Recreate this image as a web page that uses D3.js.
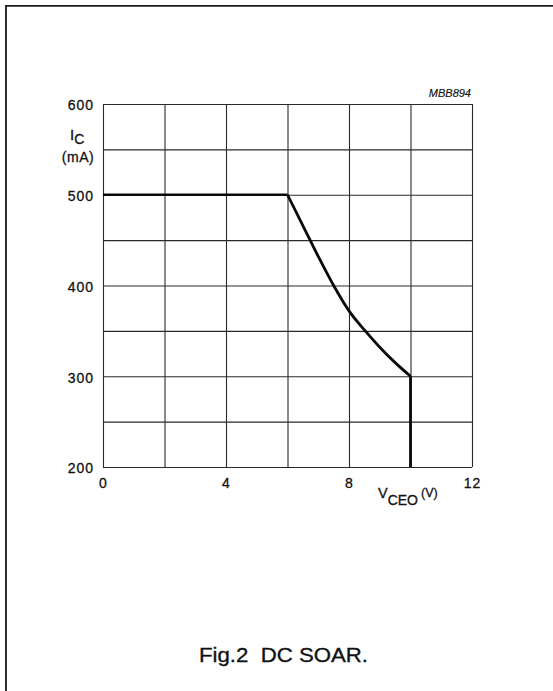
<!DOCTYPE html>
<html>
<head>
<meta charset="utf-8">
<script src="https://cdn.jsdelivr.net/npm/d3@7"></script>
<style>
  html, body { margin: 0; padding: 0; background: #fff; }
  svg { display: block; }
  text { font-family: "Liberation Sans", Arial, Helvetica, sans-serif; fill: #111; stroke: #111; stroke-width: 0.3px; }
</style>
</head>
<body>
<script>
// DC safe operating area: collector current limit vs collector-emitter voltage
const vceGrid = [0, 2, 4, 6, 8, 10, 12];
const icGrid = [200, 250, 300, 350, 400, 450, 500, 550, 600];
const vceTicks = [0, 4, 8, 12];
const icTicks = [200, 300, 400, 500, 600];

// boundary segments: current limit, power-limited curve, voltage limit
const flatV = [0, 6];
const flatI = [500, 500];
const curveV = [6, 6.5, 7, 7.5, 8, 8.5, 9, 9.5, 10];
const curveI = [500, 466, 432, 400, 372, 351, 332, 315, 300];
const vertV = [10, 10];
const vertI = [300, 200];

const W = 553, H = 691;
const svg = d3.select("body").append("svg").attr("width", W).attr("height", H);

// page frame (top and left rules)
svg.append("path")
  .attr("d", `M6,${H} V5.8 H${W}`)
  .attr("fill", "none").attr("stroke", "#1a1a1a").attr("stroke-width", 1.8);

const x = d3.scaleLinear().domain([0, 12]).range([103, 472]);
const y = d3.scaleLinear().domain([200, 600]).range([467, 104]);

// grid
const grid = svg.append("g").attr("stroke", "#2a2a2a").attr("stroke-width", 1.1);
grid.selectAll("line.v").data(vceGrid).join("line")
  .attr("class", "v")
  .attr("x1", d => x(d) + 0.5).attr("x2", d => x(d) + 0.5)
  .attr("y1", y(600)).attr("y2", y(200));
grid.selectAll("line.h").data(icGrid).join("line")
  .attr("class", "h")
  .attr("x1", x(0)).attr("x2", x(12))
  .attr("y1", d => y(d) + 0.5).attr("y2", d => y(d) + 0.5);

// axes (labels only)
const xAxis = svg.append("g")
  .attr("transform", `translate(0,${y(200)})`)
  .call(d3.axisBottom(x).tickValues(vceTicks).tickSize(0).tickPadding(11).tickFormat(d3.format("d")));
const yAxis = svg.append("g")
  .attr("transform", `translate(${x(0)},0)`)
  .call(d3.axisLeft(y).tickValues(icTicks).tickSize(0).tickPadding(9).tickFormat(d3.format("d")));
[xAxis, yAxis].forEach(a => {
  a.select(".domain").remove();
  a.selectAll("text")
    .attr("font-family", "'Liberation Sans', Arial, sans-serif")
    .attr("font-size", 14).attr("letter-spacing", 1).attr("fill", "#111");
});
yAxis.selectAll("text").attr("dy", "0.42em");

// SOA boundary
const pts = (vs, is) => vs.map((v, i) => [x(v), y(is[i])]);
const boundary = svg.append("g")
  .attr("fill", "none").attr("stroke", "#0a0a0a")
  .attr("stroke-linejoin", "round").attr("stroke-linecap", "butt");
boundary.append("path")
  .attr("d", d3.line().curve(d3.curveLinear)(pts(flatV, flatI)))
  .attr("stroke-width", 2.6);
boundary.append("path")
  .attr("d", d3.line().curve(d3.curveMonotoneX)(pts(curveV, curveI)))
  .attr("stroke-width", 2.8);
boundary.append("path")
  .attr("d", d3.line().curve(d3.curveLinear)(pts(vertV, vertI)))
  .attr("stroke-width", 2.8);

// y axis title: I_C (mA)
const yt = svg.append("text").attr("x", 70).attr("y", 140).attr("font-size", 15);
yt.append("tspan").text("I");
yt.append("tspan").attr("dy", 4).attr("font-size", 14).text("C");
svg.append("text").attr("x", 78).attr("y", 162).attr("text-anchor", "middle")
  .attr("font-size", 14).attr("letter-spacing", 0.5).text("(mA)");

// x axis title: V_CEO (V)
const xt = svg.append("text").attr("x", 378).attr("y", 498).attr("font-size", 14.5);
xt.append("tspan").text("V");
xt.append("tspan").attr("dy", 7).attr("font-size", 14).text("CEO");
xt.append("tspan").attr("dy", -8).attr("dx", 3).attr("font-size", 12.5).text("(V)");

// drawing reference code
svg.append("text").attr("x", 471).attr("y", 96.5).attr("text-anchor", "end")
  .attr("font-size", 11).attr("font-style", "italic").style("stroke-width", "0.15px").text("MBB894");

// caption
svg.append("text").attr("x", 199).attr("y", 662)
  .attr("font-size", 19.5)
  .attr("textLength", 169).attr("lengthAdjust", "spacingAndGlyphs")
  .attr("xml:space", "preserve")
  .style("white-space", "pre")
  .text("Fig.2  DC SOAR.");
</script>
</body>
</html>
